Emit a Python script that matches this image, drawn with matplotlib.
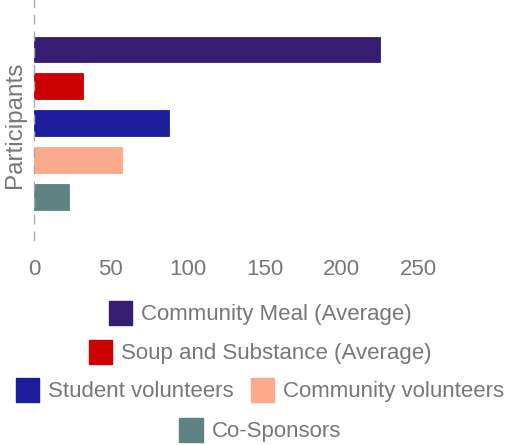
import matplotlib.pyplot as plt
from matplotlib.patches import Patch

plt.rcParams['font.family'] = ['Liberation Sans', 'DejaVu Sans']

category = "Participants"
series = ["Community Meal (Average)", "Soup and Substance (Average)",
          "Student volunteers", "Community volunteers", "Co-Sponsors"]
values = [225, 32, 88, 57, 23]
colors = ["#371d70", "#cc0000", "#1b1d9a", "#fbaa8b", "#5f8283"]
xticks = [0, 50, 100, 150, 200, 250]

# rows of the legend underneath the chart
legend_rows = [[0], [1], [2, 3], [4]]

grey = "#777777"

fig = plt.figure(figsize=(5.09, 4.45), dpi=100)
ax = fig.add_axes([34 / 509, 1 - 240 / 445, (418 - 34) / 509, 240 / 445])

n = len(series)
for i, (name, v, c) in enumerate(zip(series, values, colors)):
    ax.barh(-i, v, height=0.70, color=c, edgecolor=c, linewidth=0.6)

ax.set_ylim(-n + 1 - 1.16, 1.34)
ax.set_xlim(0, 250)
ax.set_xticks(xticks)
ax.tick_params(axis='x', length=0, labelsize=16, labelcolor=grey, pad=14)
ax.set_yticks([])
for s in ["top", "right", "bottom"]:
    ax.spines[s].set_visible(False)
ax.spines["left"].set_linestyle((0, (6, 6)))
ax.spines["left"].set_color("#aaaaaa")
ax.spines["left"].set_linewidth(1.0)

fig.text(15 / 509, 1 - 125 / 445, category, rotation=90, ha="center",
         va="center", fontsize=17.5, color=grey)

row_y = [313, 352, 390, 430]
for row, y in zip(legend_rows, row_y):
    handles = [Patch(facecolor=colors[k], edgecolor=colors[k]) for k in row]
    labels = [series[k] for k in row]
    fig.legend(handles, labels, loc="center", ncol=len(row),
               bbox_to_anchor=(260 / 509, 1 - y / 445), frameon=False,
               fontsize=16, labelcolor=grey, handlelength=1.05,
               handleheight=1.3, handletextpad=0.4, columnspacing=0.8,
               borderpad=0, borderaxespad=0)

fig.savefig("out.png", dpi=100)
